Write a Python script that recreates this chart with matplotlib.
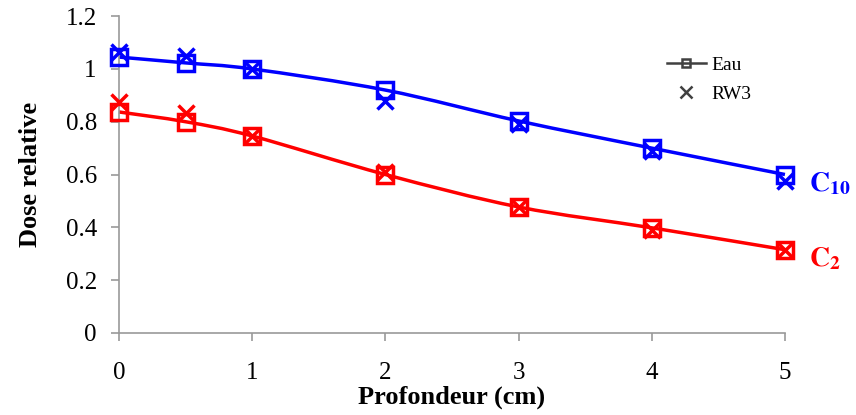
import numpy as np
import matplotlib
matplotlib.use('Agg')
import matplotlib.pyplot as plt
from matplotlib.path import Path
from matplotlib.patches import PathPatch
from matplotlib.lines import Line2D

# profondeur (cm)
profondeur = [0, 0.5, 1, 2, 3, 4, 5]

# C10 champ
c10_eau = [1.045, 1.023, 1.0, 0.92, 0.803, 0.70, 0.60]
c10_rw3 = [1.065, 1.05, 1.0, 0.88, 0.79, 0.69, 0.575]

# C2 champ
c2_eau = [0.837, 0.80, 0.746, 0.60, 0.477, 0.398, 0.315]
c2_rw3 = [0.875, 0.833, 0.746, 0.61, 0.477, 0.39, 0.315]

plt.rcParams['font.family'] = ['Liberation Serif', 'DejaVu Serif']
plt.rcParams['mathtext.fontset'] = 'stix'


def smooth_path(x, y):
    # courbe lissée (Catmull-Rom -> Bezier) qui passe par les points
    x = np.asarray(x, float)
    y = np.asarray(y, float)
    verts = [(x[0], y[0])]
    codes = [Path.MOVETO]
    n = len(x)
    for i in range(n - 1):
        p0 = (x[max(i - 1, 0)], y[max(i - 1, 0)])
        p1 = (x[i], y[i])
        p2 = (x[i + 1], y[i + 1])
        p3 = (x[min(i + 2, n - 1)], y[min(i + 2, n - 1)])
        c1 = (p1[0] + (p2[0] - p0[0]) / 6, p1[1] + (p2[1] - p0[1]) / 6)
        c2 = (p2[0] - (p3[0] - p1[0]) / 6, p2[1] - (p3[1] - p1[1]) / 6)
        verts += [c1, c2, p2]
        codes += [Path.CURVE4] * 3
    return Path(verts, codes)


fig = plt.figure(figsize=(8.56, 4.15), dpi=100)
ax = fig.add_axes([0.139, 0.198, 0.778, 0.763])

for eau, rw3, color in [(c10_eau, c10_rw3, '#0000FF'), (c2_eau, c2_rw3, '#FF0000')]:
    ax.add_patch(PathPatch(smooth_path(profondeur, eau), fill=False, edgecolor=color, lw=2.5, zorder=2))
    ax.plot(profondeur, eau, ls='none', marker='s', ms=12, mfc='none', mec=color, mew=2.5, zorder=3)
    ax.plot(profondeur, rw3, ls='none', marker='x', ms=11, mec=color, mew=2.5, zorder=3)

ax.set_xlim(0, 5)
ax.set_ylim(0, 1.2)
ax.set_xticks(range(6))
ax.set_yticks([0, 0.2, 0.4, 0.6, 0.8, 1.0, 1.2])
ax.set_yticklabels(['0', '0.2', '0.4', '0.6', '0.8', '1', '1.2'])
ax.tick_params(labelsize=18, color='#999999', length=6, width=1.2)
ax.tick_params(axis='y', pad=10)
ax.tick_params(axis='x', pad=15)

for s in ['top', 'right']:
    ax.spines[s].set_visible(False)
for s in ['left', 'bottom']:
    ax.spines[s].set_color('#999999')
    ax.spines[s].set_linewidth(1.2)
for artist in ax.lines + ax.patches:
    artist.set_clip_on(False)

ax.set_xlabel('Profondeur (cm)', fontsize=19, fontweight='bold', labelpad=1)
ax.set_ylabel('Dose relative', fontsize=19, fontweight='bold', labelpad=17)

handles = [Line2D([], [], color='#404040', marker='s', ms=6, mfc='none', mew=1.8, lw=1.8),
           Line2D([], [], color='#404040', marker='x', ms=8, mew=1.8, ls='none')]
ax.legend(handles, ['Eau', 'RW3'], loc='upper left',
          bbox_to_anchor=(667 / 856, 1 - 56 / 415), bbox_transform=fig.transFigure,
          frameon=False, fontsize=14, borderpad=0, borderaxespad=0,
          handlelength=2.0, handletextpad=0.3, labelspacing=0.6)

ax.text(5.18, 0.565, r'$\mathbf{C_{10}}$', color='#0000FF', fontsize=20,
        ha='left', va='center')
ax.text(5.18, 0.28, r'$\mathbf{C_{2}}$', color='#FF0000', fontsize=20,
        ha='left', va='center')

fig.savefig('out.png', dpi=100)
